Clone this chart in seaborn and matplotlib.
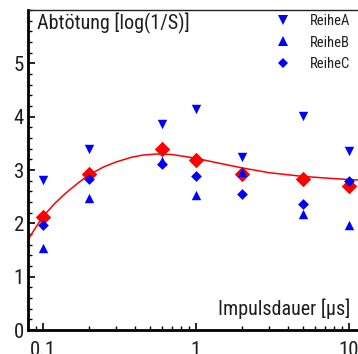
import numpy as np
import pandas as pd
import matplotlib
matplotlib.use("Agg")
import matplotlib.pyplot as plt
from matplotlib.lines import Line2D
from matplotlib.ticker import FixedLocator, NullFormatter, MultipleLocator
import seaborn as sns

# ---- data ----
x_vals = [0.1, 0.2, 0.6, 1, 2, 5, 10]
reihe_a = [2.81, 3.39, 3.86, 4.14, 3.25, 4.01, 3.36]
reihe_b = [1.54, 2.48, 3.17, 2.54, 2.96, 2.17, 1.97]
reihe_c = [1.97, 2.83, 3.12, 2.88, 2.55, 2.36, 2.80]
mittel = [2.12, 2.92, 3.40, 3.18, 2.92, 2.84, 2.70]

curve_x = [0.08, 0.09, 0.1, 0.12, 0.14, 0.17, 0.2, 0.25, 0.3, 0.38, 0.45, 0.55,
           0.7, 1.0, 1.4, 2.0, 3.0, 4.0, 5.0, 7.0, 10.0, 12.5]
curve_y = [1.70, 1.93, 2.13, 2.38, 2.56, 2.76, 2.91, 3.06, 3.15, 3.24, 3.28, 3.30,
           3.29, 3.22, 3.13, 3.04, 2.95, 2.91, 2.88, 2.85, 2.82, 2.81]

series_names = ["ReiheA", "ReiheB", "ReiheC"]
x_ticks = [0.1, 1, 10]
x_ticklabels = ["0.1", "1", "10"]
y_ticks = [0, 1, 2, 3, 4, 5]

ylabel = "Abtötung [log(1/S)]"
xlabel = "Impulsdauer [µs]"

df = pd.DataFrame({
    "x": x_vals * 3,
    "y": reihe_a + reihe_b + reihe_c,
    "Reihe": sum([[n] * len(x_vals) for n in series_names], []),
})
df_m = pd.DataFrame({"x": x_vals, "y": mittel})
df_c = pd.DataFrame({"x": curve_x, "y": curve_y})

sns.set_style("ticks")
plt.rcParams["font.family"] = ["Roboto Condensed", "DejaVu Sans"]
plt.rcParams["axes.unicode_minus"] = False

W, H = 358, 354
fig = plt.figure(figsize=(W / 100, H / 100), dpi=100)
ax = fig.add_axes([28.2 / W, 24 / H, 335.6 / W, 320 / H])

blue = "#0000ff"
red = "#ff0000"

sns.lineplot(data=df_c, x="x", y="y", ax=ax, color=red, linewidth=1.1,
             zorder=2, legend=False)
sns.scatterplot(data=df_m, x="x", y="y", ax=ax, marker="D", color=red,
                s=62, linewidth=0, zorder=3, legend=False)
markers = {"ReiheA": "v", "ReiheB": "^", "ReiheC": "D"}
sizes_map = {"ReiheA": 46, "ReiheB": 46, "ReiheC": 30}
for name in series_names:
    sub = df[df["Reihe"] == name]
    sns.scatterplot(data=sub, x="x", y="y", ax=ax, marker=markers[name],
                    color=blue, s=sizes_map[name], linewidth=0, zorder=4,
                    legend=False)

ax.set_xscale("log")
ax.set_xlim(0.08, 12.5)
ax.set_ylim(0, 6)
ax.set_xlabel("")
ax.set_ylabel("")

ax.xaxis.set_major_locator(FixedLocator(x_ticks))
ax.set_xticklabels(x_ticklabels)
minors = [m * d for d in [0.01, 0.1, 1, 10] for m in range(2, 10)]
ax.xaxis.set_minor_locator(FixedLocator(minors))
ax.xaxis.set_minor_formatter(NullFormatter())
ax.yaxis.set_major_locator(FixedLocator(y_ticks))
ax.yaxis.set_minor_locator(MultipleLocator(0.2))

tc = "#1e1e1e"
ax.tick_params(which="major", direction="in", length=5, width=1.2,
               labelsize=15, colors="black", labelcolor=tc)
ax.tick_params(which="minor", direction="in", length=3, width=1.0, colors="black")
ax.tick_params(axis="x", which="major", pad=8)
ax.tick_params(axis="y", which="major", pad=3)

for s in ["left", "bottom"]:
    ax.spines[s].set_linewidth(2.0)
    ax.spines[s].set_color("black")
ax.spines["top"].set_visible(True)
ax.spines["top"].set_linewidth(1.0)
ax.spines["top"].set_color("#222222")
ax.spines["right"].set_visible(False)

fig.text(37 / W, 1 - 23 / H, ylabel, fontsize=14.5, color=tc,
         ha="left", va="center")
fig.text(350 / W, 1 - 309 / H, xlabel, fontsize=14.5, color=tc,
         ha="right", va="center")

handles = [Line2D([], [], linestyle="none", marker=markers[n], color=blue,
                  markersize=6.6 if n != "ReiheC" else 5.2, markeredgewidth=0)
           for n in series_names]
leg = ax.legend(handles, series_names, loc="upper left",
                bbox_to_anchor=(276 / W, 1 - 14 / H), bbox_transform=fig.transFigure,
                frameon=False, fontsize=10.5, labelspacing=0.52,
                handletextpad=1.3, handlelength=1.0, borderpad=0, borderaxespad=0)
for t in leg.get_texts():
    t.set_color(tc)

fig.savefig("out.png", dpi=100)
